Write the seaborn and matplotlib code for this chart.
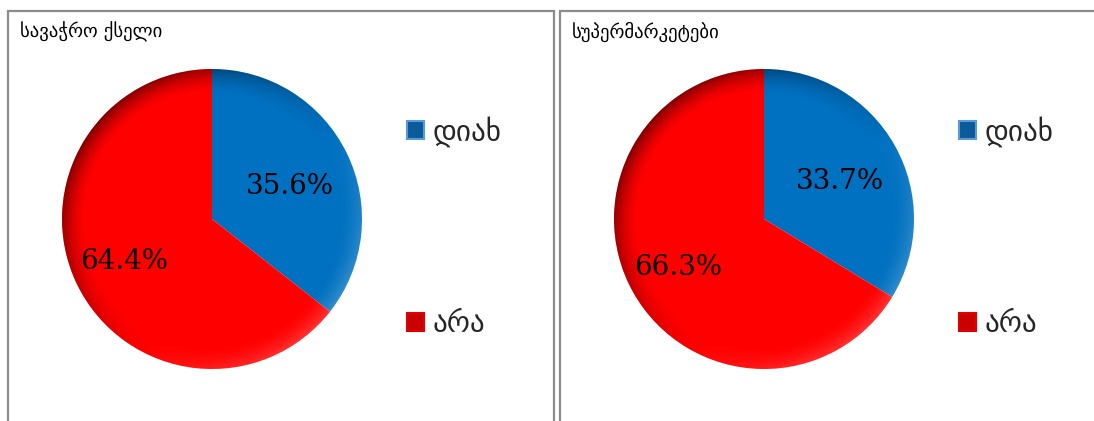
import numpy as np
import matplotlib
matplotlib.use("Agg")
import matplotlib.pyplot as plt
import seaborn as sns
from matplotlib.patches import Rectangle, Patch, Circle

# Survey answers: share of "yes" / "no" for two kinds of retail outlets
panel_titles = ["სავაჭრო ქსელი", "სუპერმარკეტები"]
answer_labels = ["დიახ", "არა"]
shares_chain = [35.6, 64.4]
shares_supermarket = [33.7, 66.3]
panel_shares = [shares_chain, shares_supermarket]

slice_colors = ["#0070C0", "#FF0000"]
legend_faces = ["#0B5A9A", "#C80000"]
legend_edges = ["#5B9BD5", "#E00000"]
label_dist = [0.58, 0.655]
label_drop = [0.035, 0.0]

sns.set_theme(style="white")
plt.rcParams["font.family"] = ["DejaVu Sans"]

W, H = 1094, 421
fig = plt.figure(figsize=(W / 100, H / 100), dpi=100)
fig.patch.set_facecolor("white")


def px(x, y):
    """Pixel position (from top-left) to figure fraction."""
    return x / W, 1 - y / H


def bevel(ax):
    """Soft rim shading over a pie of radius 1."""
    n = 500
    g = np.linspace(-1, 1, n)
    xx, yy = np.meshgrid(g, g)
    r = np.hypot(xx, yy) + 1e-9
    rim = np.clip((r - 0.84) / 0.16, 0, 1) ** 1.6
    d = (xx * -0.75 + yy * 0.66) / r
    dark = rim * np.clip(d + 0.25, 0, 1.25) / 1.25 * 0.5
    light = rim * np.clip(-d - 0.2, 0, 1) * 0.25
    img = np.zeros((n, n, 4))
    a = dark + light
    shade = np.where(dark > 0, 0.0, 1.0)
    img[..., 0] = shade
    img[..., 1] = shade
    img[..., 2] = shade
    img[..., 3] = np.clip(a, 0, 1)
    im = ax.imshow(img, extent=(-1, 1, -1, 1), origin="lower", zorder=3,
                   interpolation="bilinear")
    clip = Circle((0, 0), 1.0, transform=ax.transData)
    im.set_clip_path(clip)


# Panel frames
frame_kw = dict(fill=False, edgecolor="#8C8C8C", linewidth=1.6,
                transform=fig.transFigure, clip_on=False)
x0, y0 = px(8, 11)
x1, _ = px(554, 11)
fig.add_artist(Rectangle((x0, -0.1), x1 - x0, y0 + 0.1, **frame_kw))
x2, _ = px(560, 11)
fig.add_artist(Rectangle((x2, -0.1), 1.2, y0 + 0.1, **frame_kw))

centers = [(212, 219), (764, 219)]
radius_px = 150
title_x = [20, 572]
legend_x = [407, 959]

for i, shares in enumerate(panel_shares):
    cx, cy = centers[i]
    left, bottom = px(cx - radius_px, cy + radius_px)
    ax = fig.add_axes([left, bottom, 2 * radius_px / W, 2 * radius_px / H])
    wedges, texts, autotexts = ax.pie(
        shares, colors=slice_colors, startangle=90, counterclock=False,
        autopct="%.1f%%", pctdistance=0.6, radius=1.0,
        wedgeprops=dict(linewidth=0),
        textprops=dict(family="DejaVu Serif", fontsize=20, color="black"),
    )
    # place each value label along its slice's bisector
    for w, t, dist, drop in zip(wedges, autotexts, label_dist, label_drop):
        ang = np.deg2rad((w.theta1 + w.theta2) / 2)
        t.set_position((dist * np.cos(ang), dist * np.sin(ang) - drop))
        t.set_zorder(5)
    bevel(ax)
    ax.set_xlim(-1, 1)
    ax.set_ylim(-1, 1)
    ax.set_aspect("equal")
    ax.axis("off")

    tx, ty = px(title_x[i], 38)
    fig.text(tx, ty, panel_titles[i], fontsize=13.5, color="black",
             ha="left", va="baseline")

    handles = [Patch(facecolor=fc, edgecolor=ec, linewidth=1.5)
               for fc, ec in zip(legend_faces, legend_edges)]
    lx, ly = px(legend_x[i], 116)
    fig.legend(handles, answer_labels, loc="upper left",
               bbox_to_anchor=(lx, ly), frameon=False, fontsize=21,
               handlelength=0.58, handleheight=0.58, handletextpad=0.28,
               labelspacing=5.6, borderpad=0, borderaxespad=0)

fig.savefig("out.png", dpi=100, facecolor="white")
